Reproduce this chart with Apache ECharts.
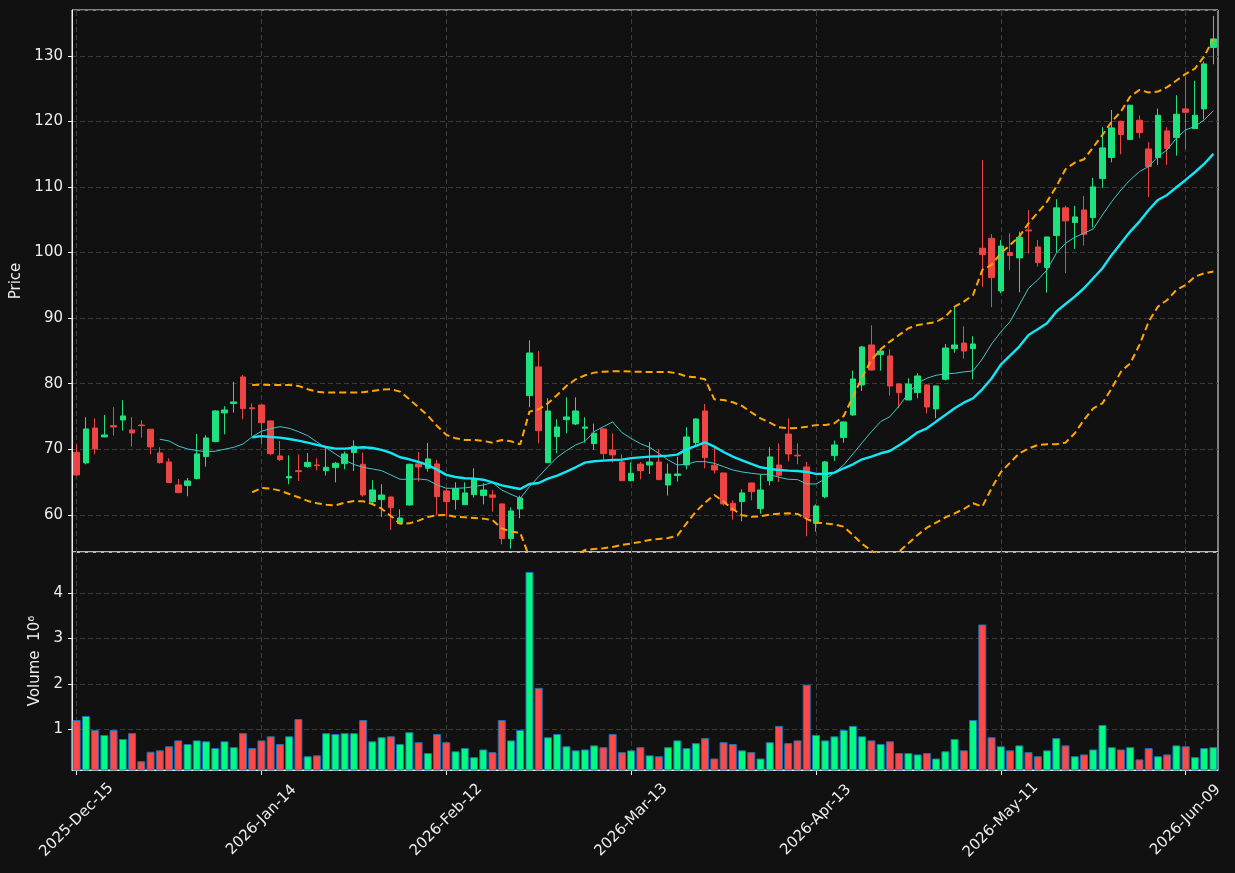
<!DOCTYPE html>
<html lang="en">
<head>
<meta charset="UTF-8">
<title>Candlestick chart</title>
<script src="https://cdn.jsdelivr.net/npm/echarts@6.0.0/dist/echarts.min.js"></script>
<style>
  html, body { margin: 0; padding: 0; background: #111111; }
  #chart { width: 1235px; height: 873px; }
</style>
</head>
<body>
<div id="chart"></div>
<script>
// trading days (category labels)
var dates = [
  '2025-Dec-15','2025-Dec-16','2025-Dec-17','2025-Dec-18','2025-Dec-19','2025-Dec-22','2025-Dec-23','2025-Dec-24','2025-Dec-26','2025-Dec-29',
  '2025-Dec-30','2025-Dec-31','2026-Jan-02','2026-Jan-05','2026-Jan-06','2026-Jan-07','2026-Jan-08','2026-Jan-09','2026-Jan-12','2026-Jan-13',
  '2026-Jan-14','2026-Jan-15','2026-Jan-16','2026-Jan-20','2026-Jan-21','2026-Jan-22','2026-Jan-23','2026-Jan-26','2026-Jan-27','2026-Jan-28',
  '2026-Jan-29','2026-Jan-30','2026-Feb-02','2026-Feb-03','2026-Feb-04','2026-Feb-05','2026-Feb-06','2026-Feb-09','2026-Feb-10','2026-Feb-11',
  '2026-Feb-12','2026-Feb-13','2026-Feb-17','2026-Feb-18','2026-Feb-19','2026-Feb-20','2026-Feb-23','2026-Feb-24','2026-Feb-25','2026-Feb-26',
  '2026-Feb-27','2026-Mar-02','2026-Mar-03','2026-Mar-04','2026-Mar-05','2026-Mar-06','2026-Mar-09','2026-Mar-10','2026-Mar-11','2026-Mar-12',
  '2026-Mar-13','2026-Mar-16','2026-Mar-17','2026-Mar-18','2026-Mar-19','2026-Mar-20','2026-Mar-23','2026-Mar-24','2026-Mar-25','2026-Mar-26',
  '2026-Mar-27','2026-Mar-30','2026-Mar-31','2026-Apr-01','2026-Apr-02','2026-Apr-06','2026-Apr-07','2026-Apr-08','2026-Apr-09','2026-Apr-10',
  '2026-Apr-13','2026-Apr-14','2026-Apr-15','2026-Apr-16','2026-Apr-17','2026-Apr-20','2026-Apr-21','2026-Apr-22','2026-Apr-23','2026-Apr-24',
  '2026-Apr-27','2026-Apr-28','2026-Apr-29','2026-Apr-30','2026-May-01','2026-May-04','2026-May-05','2026-May-06','2026-May-07','2026-May-08',
  '2026-May-11','2026-May-12','2026-May-13','2026-May-14','2026-May-15','2026-May-18','2026-May-19','2026-May-20','2026-May-21','2026-May-22',
  '2026-May-26','2026-May-27','2026-May-28','2026-May-29','2026-Jun-01','2026-Jun-02','2026-Jun-03','2026-Jun-04','2026-Jun-05','2026-Jun-08',
  '2026-Jun-09','2026-Jun-10','2026-Jun-11','2026-Jun-12'
];
// indices of the labelled dates
var tickIdx = [0, 20, 40, 60, 80, 100, 120];

var opens = [
  69.54,67.92,73.25,71.88,73.6,74.47,72.95,73.7,73.05,69.44,
  68.07,64.56,64.46,65.53,68.88,71.17,75.54,76.97,81.03,76.32,
  76.76,74.32,68.98,65.62,66.74,67.35,67.6,66.74,67.2,67.81,
  69.49,67.71,62.01,62.32,62.72,58.66,61.5,67.76,67.1,67.76,
  63.64,62.32,61.55,63.08,62.93,63.04,61.66,56.37,60.9,78.18,
  82.56,67.96,71.93,74.52,73.86,73.2,70.86,73.1,69.89,68.06,
  65.21,67.74,67.6,68.06,64.55,65.98,67.6,71.01,75.84,67.56,
  66.38,61.76,62.02,64.86,60.95,65.21,67.6,72.33,69.1,67.3,
  58.71,62.77,69.03,71.78,75.23,79.81,85.91,84.43,84.23,79.96,
  77.52,78.64,79.81,76.15,80.67,85.35,86.2,85.35,100.66,102.18,
  94.15,100.0,99.19,103.45,100.86,97.72,102.6,106.82,104.58,106.5,
  105.34,111.29,114.49,120.03,117.24,120.18,115.81,114.49,118.56,117.55,
  121.91,118.92,121.91,131.27
];
var closes = [
  66.08,73.1,70.05,72.19,73.4,75.09,72.49,73.6,70.36,67.97,
  64.91,63.39,65.17,69.29,71.73,75.85,76.0,77.22,76.2,76.18,
  74.06,69.33,68.42,65.83,66.59,68.01,67.5,67.25,67.86,69.28,
  70.45,63.03,63.79,63.03,61.1,59.52,67.71,67.3,68.52,62.77,
  62.01,64.0,63.34,65.42,63.79,62.67,56.37,60.59,62.58,84.69,
  72.84,75.84,73.4,74.93,75.84,73.4,72.44,69.34,69.13,65.21,
  66.34,66.74,68.06,65.37,66.23,66.23,71.88,74.62,68.73,66.84,
  61.66,60.64,63.34,63.54,63.79,68.83,66.03,69.28,69.0,59.56,
  61.35,68.07,70.66,74.17,80.72,85.61,82.09,84.99,79.65,78.64,
  79.96,81.18,76.45,79.66,85.45,85.91,84.99,86.06,99.69,96.18,
  101.0,99.55,102.34,103.3,98.47,102.39,106.82,104.84,105.44,102.79,
  110.02,115.97,119.02,118.0,122.48,118.31,113.12,120.95,115.92,121.1,
  121.4,120.95,128.78,132.59
];
var lows = [
  66.0,67.71,69.24,71.85,72.08,72.85,70.41,71.78,69.24,67.81,
  64.9,63.29,62.83,65.42,67.36,71.07,72.29,75.59,74.58,72.03,
  70.81,69.1,68.22,64.66,65.16,67.2,66.79,65.98,64.96,66.95,
  66.69,62.77,61.76,59.68,57.7,58.6,61.4,65.06,66.59,59.98,
  59.72,60.8,61.5,62.62,61.6,60.49,55.51,54.84,59.47,76.4,
  70.91,67.9,69.39,72.44,73.7,71.01,69.89,68.37,67.96,65.2,
  65.1,65.42,66.23,65.3,62.93,65.06,66.95,70.66,67.1,66.28,
  61.4,59.27,59.02,62.22,60.18,64.5,65.01,68.17,67.71,56.73,
  57.44,62.52,68.22,71.01,75.13,78.89,82.0,82.0,78.18,76.25,
  77.5,77.78,75.49,74.72,80.47,84.74,83.82,80.67,94.81,91.66,
  93.79,97.31,93.95,99.85,97.87,93.9,100.05,96.85,100.56,101.07,
  103.84,109.82,113.78,114.99,117.2,117.44,108.45,113.38,113.38,114.79,
  115.76,118.82,120.34,128.73
];
var highs = [
  70.76,74.88,74.73,75.24,76.41,77.48,74.88,74.42,73.1,70.31,
  68.63,65.47,65.63,72.34,72.14,75.99,76.56,80.27,81.34,77.02,
  76.8,74.4,71.27,69.08,69.23,69.43,68.62,70.25,68.06,69.64,
  71.37,69.49,65.27,64.66,62.8,60.84,67.8,69.59,70.96,68.37,
  64.0,64.96,64.96,67.1,64.81,63.79,61.7,61.14,62.93,86.62,
  84.95,77.78,74.57,77.93,77.93,74.88,73.91,73.2,72.44,69.24,
  68.01,68.06,71.11,70.0,67.81,68.88,73.35,74.7,76.91,70.5,
  66.4,62.22,63.89,64.9,66.18,70.3,70.91,74.72,70.91,68.06,
  61.6,68.22,71.32,74.2,82.0,85.76,88.91,85.4,85.25,80.0,
  80.82,81.59,79.9,79.7,86.06,91.66,88.76,87.24,114.1,102.84,
  101.92,102.94,103.2,106.5,101.92,102.4,108.14,107.12,107.12,108.65,
  111.39,119.12,121.76,120.1,122.5,120.9,116.83,121.97,119.12,124.0,
  126.85,126.19,129.14,136.1
];
// volume, millions of shares
var volumesM = [
  1.2,1.29,0.98,0.87,0.98,0.78,0.91,0.29,0.5,0.53,
  0.62,0.75,0.67,0.75,0.73,0.58,0.73,0.6,0.91,0.58,
  0.75,0.84,0.67,0.84,1.22,0.4,0.42,0.91,0.89,0.91,
  0.91,1.2,0.73,0.82,0.84,0.67,0.93,0.71,0.47,0.89,
  0.71,0.51,0.58,0.38,0.55,0.49,1.2,0.75,0.98,4.47,
  1.91,0.82,0.89,0.62,0.53,0.55,0.64,0.6,0.89,0.49,
  0.53,0.6,0.42,0.4,0.6,0.75,0.58,0.69,0.8,0.35,
  0.71,0.67,0.53,0.49,0.35,0.71,1.07,0.69,0.75,1.98,
  0.87,0.75,0.84,0.98,1.07,0.84,0.75,0.67,0.73,0.47,
  0.47,0.44,0.47,0.35,0.51,0.78,0.53,1.2,3.31,0.82,
  0.62,0.53,0.64,0.49,0.4,0.53,0.8,0.64,0.4,0.44,
  0.55,1.09,0.6,0.55,0.6,0.33,0.58,0.4,0.44,0.64,
  0.62,0.38,0.58,0.6
];
// 10-day average, from day index 9
var ma10 = [
  71.53,71.27,70.5,70.05,69.8,69.64,69.7,70.0,70.3,70.8,
  71.9,72.75,73.15,73.45,73.2,72.69,72.08,71.11,70.2,69.28,
  68.37,67.66,67.25,66.99,66.74,66.08,65.42,65.42,65.47,65.32,
  64.56,64.05,64.05,64.1,64.3,64.55,64.91,63.79,63.13,62.52,
  64.3,65.83,67.35,68.78,69.8,70.66,71.22,72.69,73.45,74.17,
  72.54,71.65,70.86,70.3,69.38,68.37,67.6,67.71,68.11,68.11,
  67.86,67.35,66.84,66.54,66.34,66.18,66.18,65.72,65.42,65.37,
  64.71,64.71,65.47,66.44,67.6,69.29,71.02,72.69,74.22,74.98,
  76.61,78.54,80.07,80.83,81.29,81.49,81.59,81.8,81.95,83.78,
  86.06,87.9,89.47,92.01,94.56,95.83,97.35,99.89,101.42,102.34,
  102.95,103.61,105.75,107.78,109.56,111.09,112.36,113.12,114.65,115.67,
  117.45,118.72,119.22,120.24,121.66
];
// 20-day average, from day index 19
var ma20 = [
  71.83,72.0,71.88,71.78,71.57,71.32,71.01,70.66,70.35,70.1,
  70.1,70.2,70.3,70.2,69.9,69.44,68.78,68.47,68.06,67.6,
  66.9,66.1,65.77,65.57,65.52,65.36,64.96,64.5,64.2,63.94,
  64.71,64.86,65.52,65.98,66.59,67.25,67.96,68.17,68.27,68.37,
  68.42,68.65,68.77,68.88,68.93,69.03,69.18,69.99,70.5,71.06,
  70.4,69.59,68.88,68.32,67.76,67.25,67.0,66.84,66.74,66.69,
  66.54,66.25,66.23,66.44,67.1,67.71,68.47,68.88,69.39,69.74,
  70.61,71.52,72.59,73.2,74.22,75.23,76.25,77.11,77.78,79.15,
  80.8,82.9,84.27,85.66,87.43,88.3,89.21,90.99,92.16,93.28,
  94.56,96.08,97.61,99.64,101.42,103.2,104.73,106.5,108.03,108.79,
  109.96,111.08,112.25,113.52,115.05
];
// band edges, from day index 19
var bandUpper = [
  79.81,79.86,79.81,79.81,79.81,79.66,79.15,78.79,78.64,78.64,
  78.64,78.64,78.69,78.89,79.1,79.15,78.79,77.62,76.4,75.13,
  73.55,72.2,71.67,71.42,71.42,71.27,71.01,71.42,71.21,70.76,
  75.74,76.1,77.01,78.28,79.66,80.67,81.28,81.69,81.84,81.89,
  81.89,81.84,81.82,81.79,81.79,81.79,81.59,81.08,80.98,80.67,
  77.62,77.52,77.17,76.61,75.64,74.72,74.06,73.35,73.2,73.25,
  73.45,73.68,73.71,73.96,75.08,78.0,81.0,83.62,85.25,86.42,
  87.44,88.45,88.96,89.17,89.42,90.23,91.76,92.52,93.54,97.35,
  98.12,99.9,101.16,102.44,104.47,106.09,107.77,110.06,112.71,113.72,
  114.23,116.07,117.95,119.98,121.51,123.8,124.82,124.41,124.56,125.23,
  126.24,127.26,128.07,129.9,132.6
];
var bandLower = [
  63.44,64.1,64.0,63.69,63.18,62.68,62.12,61.76,61.55,61.45,
  61.86,62.11,62.06,61.65,60.94,59.83,58.65,58.7,59.11,59.67,
  59.93,59.98,59.72,59.62,59.52,59.42,59.21,57.94,57.43,57.28,
  53.5,53.6,54.0,53.7,53.5,53.8,54.64,54.79,54.89,55.1,
  55.4,55.62,55.86,56.17,56.32,56.47,56.83,58.71,60.49,61.86,
  63.03,62.01,60.89,59.93,59.72,59.77,60.02,60.18,60.23,60.13,
  59.37,58.81,58.7,58.55,58.19,56.92,55.55,54.53,53.6,53.3,
  54.4,55.65,56.92,58.04,58.81,59.62,60.23,60.89,61.76,61.25,
  64.05,66.5,67.96,69.39,70.1,70.66,70.76,70.76,71.01,72.44,
  74.47,76.25,77.01,79.3,81.84,83.11,85.91,89.47,91.76,92.77,
  94.3,95.06,96.33,96.84,97.1
];

var upCandle = '#1de27e', downCandle = '#ef4444';
var upVol = '#00fa82', downVol = '#ff4848';
var textColor = '#ececec';
var spineColor = '#f2f2f2';
var gridColor = '#3c3c3c';
var font = 'DejaVu Sans';

// leading gaps before a rolling series starts
function pad(n, arr) {
  return new Array(n).fill(null).concat(arr);
}

var candleData = dates.map(function (d, i) {
  return [opens[i], closes[i], lows[i], highs[i]];
});

function vGrid() {
  return {
    silent: true,
    symbol: ['none', 'none'],
    z: 1,
    label: { show: false },
    emphasis: { disabled: true },
    lineStyle: { type: [5, 3], color: gridColor, width: 1 },
    data: tickIdx.map(function (i) { return { xAxis: dates[i] }; })
  };
}

var myChart = echarts.init(document.getElementById('chart'), null, { renderer: 'canvas' });

myChart.setOption({
  animation: false,
  backgroundColor: '#111111',
  textStyle: { fontFamily: font },
  grid: [
    { left: 72, right: 17, top: 10, height: 542, show: true, borderColor: spineColor, borderWidth: 1, backgroundColor: 'transparent', outerBoundsMode: 'none' },
    { left: 72, right: 17, top: 552, height: 218, show: true, borderColor: spineColor, borderWidth: 1, backgroundColor: 'transparent', outerBoundsMode: 'none' }
  ],
  xAxis: [
    {
      type: 'category', gridIndex: 0, data: dates, boundaryGap: true,
      axisLine: { show: false }, axisTick: { show: false },
      axisLabel: { show: false }, splitLine: { show: false }
    },
    {
      type: 'category', gridIndex: 1, data: dates, boundaryGap: true,
      axisLine: { show: true, lineStyle: { color: spineColor } },
      axisTick: { show: true, alignWithLabel: true, interval: 19, length: 5, lineStyle: { color: spineColor } },
      axisLabel: {
        interval: 19, rotate: 45, align: 'center', verticalAlign: 'middle', margin: 50,
        color: textColor, fontSize: 15, fontFamily: font
      },
      splitLine: { show: false }
    }
  ],
  yAxis: [
    {
      type: 'value', gridIndex: 0, min: 54.33, max: 137.0,
      minInterval: 10, maxInterval: 10, splitNumber: 8,
      name: 'Price', nameLocation: 'middle', nameRotate: 90, nameGap: 46,
      nameTextStyle: { color: textColor, fontSize: 15, fontFamily: font },
      axisLine: { show: true, lineStyle: { color: spineColor } },
      axisTick: { show: true, length: 4, lineStyle: { color: spineColor } },
      axisLabel: { color: textColor, fontSize: 15, fontFamily: font, margin: 9, showMinLabel: false, showMaxLabel: false },
      splitLine: { show: true, lineStyle: { type: [5, 3], color: gridColor } }
    },
    {
      type: 'value', gridIndex: 1, min: 0.096, max: 4.91,
      minInterval: 1, maxInterval: 1, splitNumber: 5,
      name: 'Volume  10\u2076', nameLocation: 'middle', nameRotate: 90, nameGap: 29,
      nameTextStyle: { color: textColor, fontSize: 15, fontFamily: font },
      axisLine: { show: true, lineStyle: { color: spineColor } },
      axisTick: { show: true, length: 4, lineStyle: { color: spineColor } },
      axisLabel: { color: textColor, fontSize: 15, fontFamily: font, margin: 9, showMinLabel: false, showMaxLabel: false },
      splitLine: { show: true, lineStyle: { type: [5, 3], color: gridColor } }
    }
  ],
  series: [
    { type: 'line', xAxisIndex: 0, yAxisIndex: 0, data: [], silent: true, z: 1, markLine: vGrid() },
    { type: 'line', xAxisIndex: 1, yAxisIndex: 1, data: [], silent: true, z: 1, markLine: vGrid() },
    {
      name: 'OHLC', type: 'candlestick', xAxisIndex: 0, yAxisIndex: 0, z: 3,
      data: candleData, barWidth: 6, silent: true,
      itemStyle: { color: upCandle, color0: downCandle, borderColor: upCandle, borderColor0: downCandle, borderWidth: 1 }
    },
    {
      name: 'MA10', type: 'line', xAxisIndex: 0, yAxisIndex: 0, z: 4,
      data: pad(9, ma10), showSymbol: false, silent: true,
      lineStyle: { width: 1, color: '#43c6c6' }
    },
    {
      name: 'MA20', type: 'line', xAxisIndex: 0, yAxisIndex: 0, z: 4,
      data: pad(19, ma20), showSymbol: false, silent: true,
      lineStyle: { width: 2.4, color: '#14e6f6' }
    },
    {
      name: 'Upper', type: 'line', xAxisIndex: 0, yAxisIndex: 0, z: 4,
      data: pad(19, bandUpper), showSymbol: false, silent: true,
      lineStyle: { width: 2, type: [7, 4], color: '#ffa500' }
    },
    {
      name: 'Lower', type: 'line', xAxisIndex: 0, yAxisIndex: 0, z: 4,
      data: pad(19, bandLower), showSymbol: false, silent: true,
      lineStyle: { width: 2, type: [7, 4], color: '#ffa500' }
    },
    {
      name: 'Volume', type: 'bar', xAxisIndex: 1, yAxisIndex: 1, z: 3,
      data: volumesM, barWidth: 8, silent: true,
      itemStyle: {
        color: function (p) { return closes[p.dataIndex] >= opens[p.dataIndex] ? upVol : downVol; },
        borderColor: '#1f72b0', borderWidth: 1
      }
    }
  ]
});
</script>
</body>
</html>
